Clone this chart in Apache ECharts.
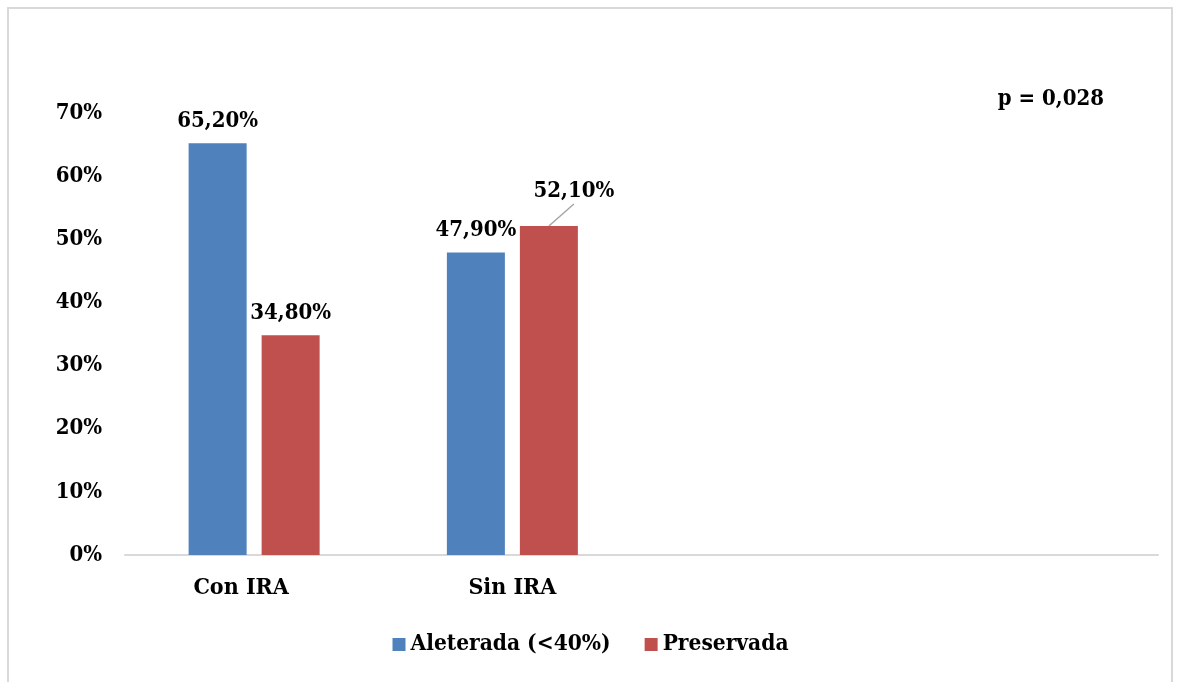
<!DOCTYPE html>
<html>
<head>
<meta charset="utf-8">
<script src="https://cdn.jsdelivr.net/npm/echarts@6/dist/echarts.min.js"></script>
<style>
html,body{margin:0;padding:0;background:#fff;}
#frame{position:absolute;left:7px;top:7px;width:1166px;height:720px;border:2px solid #d9d9d9;box-sizing:border-box;}
#chart{position:absolute;left:0;top:0;width:1181px;height:682px;}
</style>
</head>
<body>
<div id="frame"></div>
<div id="chart"></div>
<script>
const categories = ['Con IRA', 'Sin IRA', '', ''];
const seriesNames = ['Aleterada (<40%)', 'Preservada'];
const alterada = [65.2, 47.9, null, null];
const preservada = [34.8, 52.1, null, null];
const yTicks = [0, 10, 20, 30, 40, 50, 60, 70];
const pValueText = 'p = 0,028';

const FONT = '"DejaVu Serif Condensed", "Liberation Serif", serif';
const fmtPct = v => v.toFixed(2).replace('.', ',') + '%';
const LBL = {fontFamily: FONT, fontWeight: 'bold', fontSize: 22, color: '#000'};
const XLBL = {fontFamily: FONT, fontWeight: 'bold', fontSize: 23, color: '#000'};
const LEG = {fontFamily: FONT, fontWeight: 'bold', fontSize: 22.5, color: '#000'};
const BAR_W = 58, BAR_GAP_PX = 15;
const MOVE = {dx: 25, dy: -13};

const chart = echarts.init(document.getElementById('chart'), null, {renderer: 'canvas'});
const pText = {
  type: 'text', id: 'ptext', right: 77, top: 88,
  style: {text: pValueText, font: 'bold 22px ' + FONT, fill: '#000'}
};
chart.setOption({
  animation: false,
  backgroundColor: 'transparent',
  grid: {left: 125, right: 23, top: 113, bottom: 127, containLabel: false},
  legend: {
    data: seriesNames,
    bottom: 21,
    left: 'center',
    itemWidth: 13,
    itemHeight: 13,
    itemGap: 34,
    icon: 'rect',
    textStyle: LEG
  },
  graphic: [pText],
  xAxis: {
    type: 'category',
    data: categories,
    axisLine: {lineStyle: {color: '#d9d9d9', width: 2}},
    axisTick: {show: false},
    axisLabel: Object.assign({
      margin: 22,
      formatter: v => v === 'Con IRA' ? '{a|' + v + '}' : v,
      rich: {a: Object.assign({padding: [0, 26, 0, 0]}, XLBL)}
    }, XLBL)
  },
  yAxis: {
    type: 'value',
    min: 0, max: 70, interval: 10,
    splitLine: {show: false},
    axisLine: {show: false},
    axisTick: {show: false},
    axisLabel: Object.assign({
      margin: 23,
      formatter: v => yTicks.includes(v) ? v + '%' : ''
    }, LBL)
  },
  series: [
    {
      name: seriesNames[0], type: 'bar', data: alterada,
      barWidth: BAR_W, barGap: (BAR_GAP_PX / BAR_W * 100) + '%',
      itemStyle: {color: '#4f81bd'},
      label: Object.assign({show: true, position: 'top', distance: 11, formatter: p => fmtPct(p.value)}, LBL)
    },
    {
      name: seriesNames[1], type: 'bar', data: preservada,
      barWidth: BAR_W,
      itemStyle: {color: '#c0504d'},
      label: Object.assign({show: true, position: 'top', distance: 11, formatter: p => fmtPct(p.value)}, LBL),
      labelLayout: p => p.dataIndex === 1 ? MOVE : {}
    }
  ]
});

// leader line for the moved label: from the bar's top centre towards the label
try {
  const pt = chart.convertToPixel({xAxisIndex: 0, yAxisIndex: 0}, [1, preservada[1]]);
  const x0 = pt[0] + (BAR_W + BAR_GAP_PX) / 2;
  const y0 = pt[1];
  chart.setOption({
    graphic: [pText, {
      type: 'line', id: 'leader',
      shape: {x1: x0, y1: y0, x2: x0 + 25, y2: y0 - 22},
      style: {stroke: '#a6a6a6', lineWidth: 1.5}
    }]
  });
} catch (e) { console.error(e); }
</script>
</body>
</html>
